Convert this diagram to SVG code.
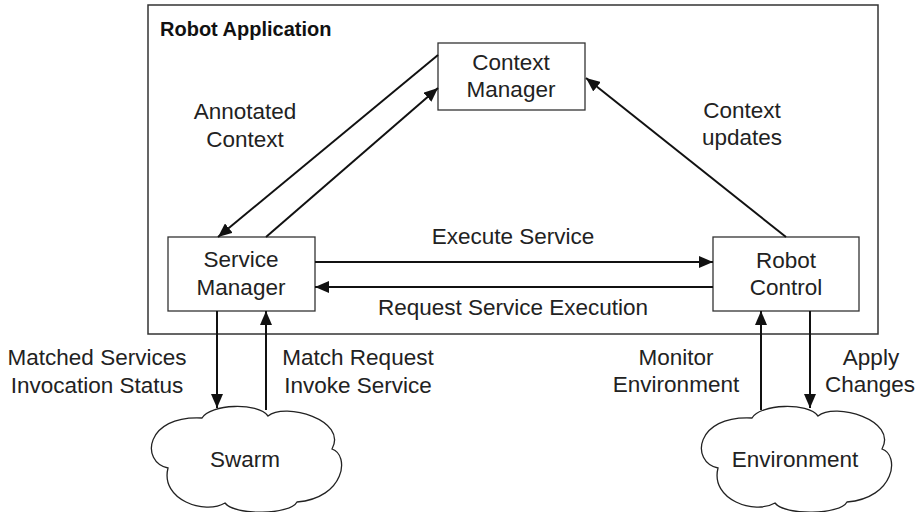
<svg xmlns="http://www.w3.org/2000/svg" xmlns:xlink="http://www.w3.org/1999/xlink" width="924" height="512" viewBox="0 0 924 512">
<style>
  .box { fill: #ffffff; stroke: #333333; stroke-width: 1.3; }
  .outer { fill: #ffffff; stroke: #333333; stroke-width: 1.5; }
  .cloud { fill: #ffffff; stroke: #222222; stroke-width: 1.3; }
  .lbl { font-family: "Liberation Sans", Arial, sans-serif; font-size: 22.5px; fill: #222222; text-anchor: middle; }
  .title { font-family: "Liberation Sans", Arial, sans-serif; font-size: 20px; font-weight: bold; fill: #111111; }
  .conn { fill: none; stroke: #111111; stroke-width: 2; }
</style>
<defs>
  <marker id="ah" markerUnits="userSpaceOnUse" markerWidth="16" markerHeight="12" refX="14" refY="6" orient="auto">
    <path d="M0,0 L14,6 L0,12 Z" fill="#111111"/>
  </marker>
  <path id="cloudShape" d="M202,418 C210,404 258,402 268,416 C285,402 348,420 332,449 C350,455 345,498 297,502 C290,515 235,516 225,503 C205,515 160,500 168,468 C140,462 145,415 202,418 Z"/>
</defs>

<g id="robot-application">
  <rect class="outer" x="148" y="5" width="730" height="329"/>
  <text class="title" x="160" y="36">Robot Application</text>
</g>

<g id="context-manager">
  <rect class="box" x="438" y="43" width="147" height="67"/>
  <text class="lbl" x="511" y="70">Context</text>
  <text class="lbl" x="511" y="97">Manager</text>
</g>

<g id="service-manager">
  <rect class="box" x="168" y="237" width="147" height="74"/>
  <text class="lbl" x="241" y="267">Service</text>
  <text class="lbl" x="241" y="295">Manager</text>
</g>

<g id="robot-control">
  <rect class="box" x="713" y="237" width="146" height="74"/>
  <text class="lbl" x="786" y="268">Robot</text>
  <text class="lbl" x="786" y="295">Control</text>
</g>

<g id="swarm">
  <use xlink:href="#cloudShape" class="cloud"/>
  <text class="lbl" x="245" y="467">Swarm</text>
</g>

<g id="environment">
  <use xlink:href="#cloudShape" class="cloud" transform="translate(550,0)"/>
  <text class="lbl" x="795" y="467">Environment</text>
</g>

<g id="connectors">
  <line class="conn" x1="438" y1="55" x2="218" y2="237" marker-end="url(#ah)"/>
  <line class="conn" x1="266" y1="237" x2="438" y2="88" marker-end="url(#ah)"/>
  <line class="conn" x1="786" y1="237" x2="586" y2="78" marker-end="url(#ah)"/>
  <line class="conn" x1="315" y1="262" x2="713" y2="262" marker-end="url(#ah)"/>
  <line class="conn" x1="713" y1="287" x2="315" y2="287" marker-end="url(#ah)"/>
  <line class="conn" x1="217" y1="311" x2="217" y2="408" marker-end="url(#ah)"/>
  <line class="conn" x1="266" y1="410" x2="266" y2="311" marker-end="url(#ah)"/>
  <line class="conn" x1="761" y1="410" x2="761" y2="311" marker-end="url(#ah)"/>
  <line class="conn" x1="810" y1="311" x2="810" y2="408" marker-end="url(#ah)"/>

  <text class="lbl" x="245" y="119">Annotated</text>
  <text class="lbl" x="245" y="147">Context</text>
  <text class="lbl" x="742" y="118">Context</text>
  <text class="lbl" x="742" y="145">updates</text>
  <text class="lbl" x="513" y="244">Execute Service</text>
  <text class="lbl" x="513" y="315">Request Service Execution</text>
  <text class="lbl" x="97" y="365">Matched Services</text>
  <text class="lbl" x="97" y="393">Invocation Status</text>
  <text class="lbl" x="358" y="365">Match Request</text>
  <text class="lbl" x="358" y="393">Invoke Service</text>
  <text class="lbl" x="676" y="365">Monitor</text>
  <text class="lbl" x="676" y="392">Environment</text>
  <text class="lbl" x="871" y="365">Apply</text>
  <text class="lbl" x="870" y="392">Changes</text>
</g>
</svg>
